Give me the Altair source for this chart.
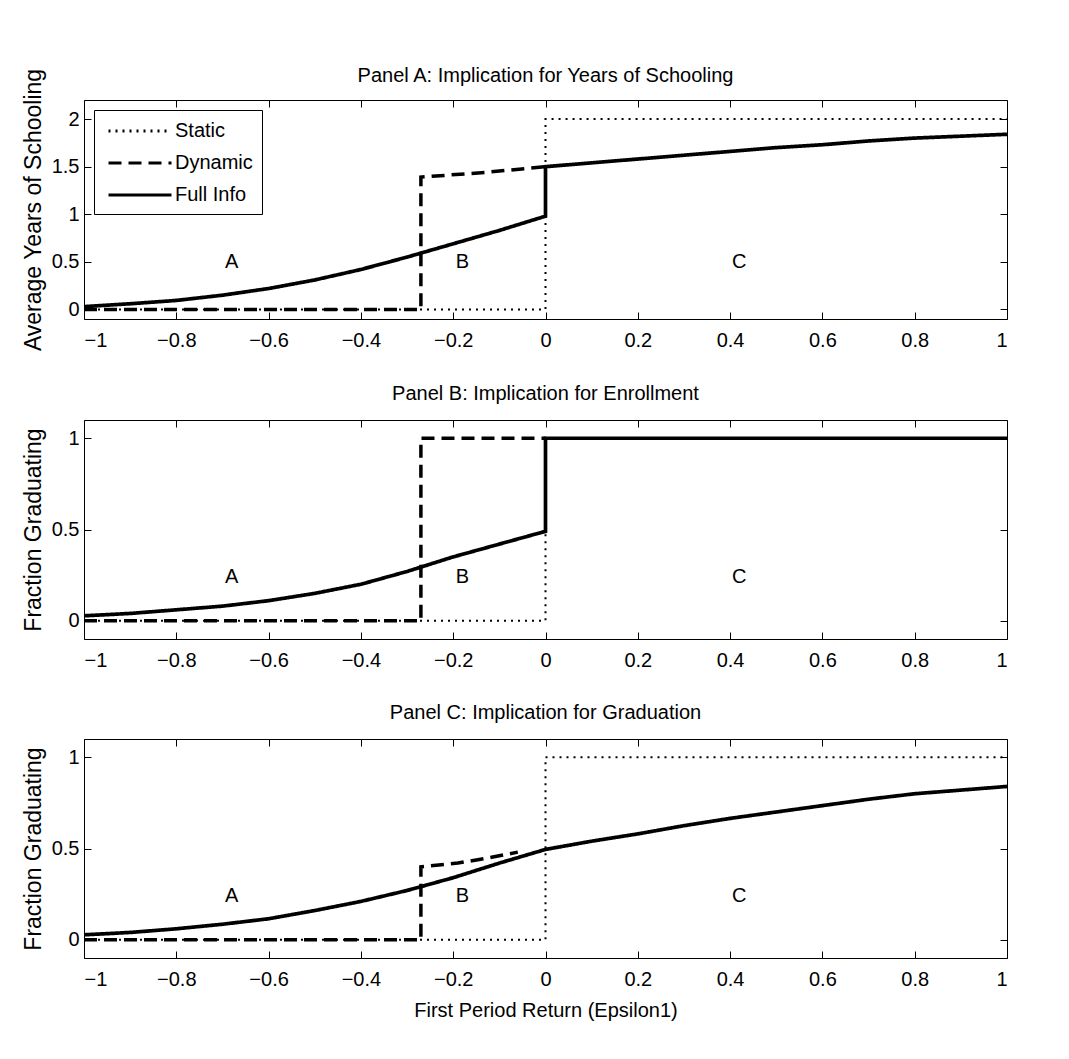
import altair as alt
import pandas as pd

FONT = "Liberation Sans"
SERIES = ["Static", "Dynamic", "Full Info"]
X_TICKS = [-1, -0.8, -0.6, -0.4, -0.2, 0, 0.2, 0.4, 0.6, 0.8, 1]

# ---------------- Panel A: years of schooling ----------------
a_static_x = [-1, 0, 0, 1]
a_static_y = [0, 0, 2, 2]
a_dynamic_x = [-1, -0.27, -0.27, -0.13, 0]
a_dynamic_y = [0, 0, 1.39, 1.44, 1.5]
a_full_x = [-1, -0.9, -0.8, -0.7, -0.6, -0.5, -0.4, -0.3, -0.2, -0.1, 0, 0,
            0.1, 0.2, 0.3, 0.4, 0.5, 0.6, 0.7, 0.8, 0.9, 1]
a_full_y = [0.03, 0.06, 0.095, 0.15, 0.22, 0.31, 0.42, 0.55, 0.69, 0.83, 0.98, 1.5,
            1.54, 1.58, 1.62, 1.66, 1.70, 1.73, 1.77, 1.80, 1.82, 1.84]

# ---------------- Panel B: enrollment ----------------
b_static_x = [-1, 0, 0, 1]
b_static_y = [0, 0, 1, 1]
b_dynamic_x = [-1, -0.27, -0.27, 0]
b_dynamic_y = [0, 0, 1, 1]
b_full_x = [-1, -0.9, -0.8, -0.7, -0.6, -0.5, -0.4, -0.3, -0.2, -0.1, 0, 0, 1]
b_full_y = [0.027, 0.04, 0.06, 0.08, 0.11, 0.15, 0.20, 0.27, 0.35, 0.42, 0.49, 1.0, 1.0]

# ---------------- Panel C: graduation ----------------
c_static_x = [-1, 0, 0, 1]
c_static_y = [0, 0, 1, 1]
c_dynamic_x = [-1, -0.27, -0.27, -0.19, -0.12, -0.06]
c_dynamic_y = [0, 0, 0.40, 0.42, 0.45, 0.48]
c_full_x = [-1, -0.9, -0.8, -0.7, -0.6, -0.5, -0.4, -0.3, -0.2, -0.1, 0,
            0.1, 0.2, 0.3, 0.4, 0.5, 0.6, 0.7, 0.8, 0.9, 1]
c_full_y = [0.027, 0.04, 0.06, 0.085, 0.115, 0.16, 0.21, 0.27, 0.34, 0.42, 0.495,
            0.54, 0.58, 0.625, 0.665, 0.70, 0.735, 0.77, 0.80, 0.82, 0.84]

# region labels
region_names = ["A", "B", "C"]
region_x = [-0.68, -0.18, 0.42]
region_y_a = 0.5
region_y_bc = 0.24


def frame(sx, sy, dx, dy, fx, fy):
    rows = []
    for name, xs, ys in (("Static", sx, sy), ("Dynamic", dx, dy), ("Full Info", fx, fy)):
        for i, (xv, yv) in enumerate(zip(xs, ys)):
            rows.append({"x": xv, "y": yv, "series": name, "ord": i})
    return pd.DataFrame(rows)


legend = alt.Legend(
    title=None, orient="top-left", offset=10,
    symbolType="M-3,0H3", symbolSize=441, symbolOffset=25, labelOffset=23,
    symbolStrokeWidth=3, symbolStrokeColor="black",
    padding=9, rowPadding=10, strokeColor="black", fillColor="white",
    labelFont=FONT, labelFontSize=20, labelColor="black", labelLimit=300,
)

DASH = alt.Scale(domain=SERIES, range=[[2, 5], [13, 7], [1, 0]])
WIDTHS = {"Static": 2, "Dynamic": 3.5, "Full Info": 3.7}


def panel(df, title, ytitle, ydomain, yticks, label_y, show_legend, xtitle, toff):
    xs = alt.Scale(domain=[-1, 1], nice=False, zero=False)
    ys = alt.Scale(domain=ydomain, nice=False, zero=False)
    xaxis_kw = dict(values=X_TICKS, format=".1~f", offset=-7, tickSize=7, domain=False,
                    labelPadding=11, grid=False, tickColor="black", labelFontSize=20)
    if xtitle:
        xaxis_kw.update(title=xtitle, titleFontSize=20, titlePadding=11)
    else:
        xaxis_kw.update(title=None)
    xaxis = alt.Axis(**xaxis_kw)
    yaxis = alt.Axis(values=yticks, format="~g", offset=-7, tickSize=7, domain=False,
                     labelPadding=5, grid=False, tickColor="black", title=ytitle,
                     titlePadding=6, titleFontSize=23, labelFontSize=20)
    layers = []
    for s in ["Full Info", "Dynamic", "Static"]:
        dash = alt.StrokeDash("series:N", scale=DASH,
                              legend=legend if show_legend else None)
        layers.append(
            alt.Chart(df).transform_filter(alt.datum.series == s)
            .mark_line(color="black", strokeWidth=WIDTHS[s], strokeCap="butt")
            .encode(
                x=alt.X("x:Q", scale=xs, axis=xaxis),
                y=alt.Y("y:Q", scale=ys, axis=yaxis),
                strokeDash=dash,
                order=alt.Order("ord:Q"),
            )
        )
    lines = alt.layer(*layers)
    lab = pd.DataFrame({"name": region_names, "x": region_x,
                        "y": [label_y] * len(region_names)})
    text = alt.Chart(lab).mark_text(font=FONT, fontSize=20, color="black").encode(
        x=alt.X("x:Q", scale=xs,
                axis=alt.Axis(orient="top", labels=False, offset=-7, tickSize=7,
                              domain=False, values=X_TICKS, title=None, grid=False,
                              tickColor="black")),
        y=alt.Y("y:Q", scale=ys,
                axis=alt.Axis(orient="right", labels=False, offset=-7, tickSize=7,
                              domain=False, values=yticks, title=None, grid=False,
                              tickColor="black")),
        text="name:N",
    )
    return (
        alt.layer(lines, text)
        .resolve_axis(x="independent", y="independent")
        .properties(width=923, height=219,
                    title=alt.TitleParams(title, fontSize=20, font=FONT,
                                          fontWeight="normal", offset=toff, color="black"))
    )


pa = panel(frame(a_static_x, a_static_y, a_dynamic_x, a_dynamic_y, a_full_x, a_full_y),
           "Panel A: Implication for Years of Schooling", "Average Years of Schooling",
           [-0.1, 2.2], [0, 0.5, 1, 1.5, 2], region_y_a, True, None, -18)
pb = panel(frame(b_static_x, b_static_y, b_dynamic_x, b_dynamic_y, b_full_x, b_full_y),
           "Panel B: Implication for Enrollment", "Fraction Graduating",
           [-0.1, 1.1], [0, 0.5, 1], region_y_bc, False, None, 16)
pc = panel(frame(c_static_x, c_static_y, c_dynamic_x, c_dynamic_y, c_full_x, c_full_y),
           "Panel C: Implication for Graduation", "Fraction Graduating",
           [-0.1, 1.1], [0, 0.5, 1], region_y_bc, False, "First Period Return (Epsilon1)", 16)

chart = (
    alt.vconcat(pa, pb, pc, spacing=31)
    .resolve_scale(strokeDash="independent")
    .properties(padding={"left": 13, "top": 57, "right": 5, "bottom": 5})
    .configure(font=FONT)
    .configure_axis(labelFont=FONT, titleFont=FONT, labelColor="black", titleColor="black",
                    titleFontWeight="normal")
    .configure_view(stroke="black", strokeWidth=1)
    .configure_title(font=FONT, color="black")
)

chart.save("out.html", embed_options={"renderer": "svg", "actions": False})
